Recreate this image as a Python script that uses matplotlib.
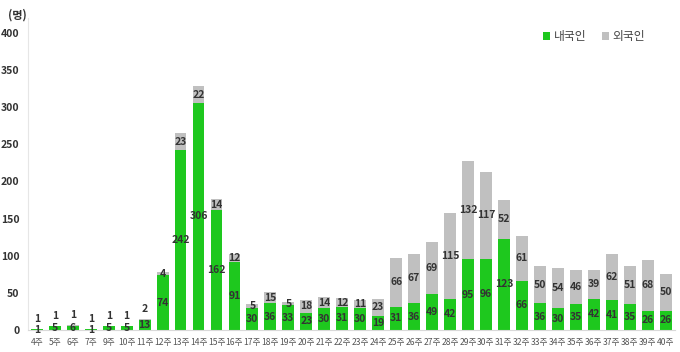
import matplotlib
matplotlib.use("Agg")
import matplotlib.pyplot as plt
import numpy as np

plt.rcParams['font.family'] = ['Noto Sans CJK KR', 'DejaVu Sans']

weeks = ["4주", "5주", "6주", "7주", "9주", "10주", "11주", "12주", "13주", "14주",
         "15주", "16주", "17주", "18주", "19주", "20주", "21주", "22주", "23주", "24주",
         "25주", "26주", "27주", "28주", "29주", "30주", "31주", "32주", "33주", "34주",
         "35주", "36주", "37주", "38주", "39주", "40주"]
domestic = [1, 5, 6, 1, 5, 5, 13, 74, 242, 306, 162, 91, 30, 36, 33, 23, 30, 31, 30, 19,
            31, 36, 49, 42, 95, 96, 123, 66, 36, 30, 35, 42, 41, 35, 26, 26]
foreign = [1, 1, 1, 1, 1, 1, 2, 4, 23, 22, 14, 12, 5, 15, 5, 18, 14, 12, 11, 23,
           66, 67, 69, 115, 132, 117, 52, 61, 50, 54, 46, 39, 62, 51, 68, 50]
yticks = [0, 50, 100, 150, 200, 250, 300, 350, 400]

green = "#1ec81e"
gray = "#c0c0c0"
txt = "#333333"

fig = plt.figure(figsize=(6.8, 3.52), dpi=100)
ax = fig.add_axes([0.041, 0.0625, 0.951, 0.886])

x = np.arange(len(weeks))
w = 0.66
ax.bar(x, domestic, width=w, color=green, label="내국인", zorder=2)
ax.bar(x, foreign, width=w, bottom=domestic, color=gray, label="외국인", zorder=2)

for i, (d, f) in enumerate(zip(domestic, foreign)):
    ax.text(x[i], d / 2, str(d), ha="center", va="center", fontsize=7.5,
            fontweight="bold", color=txt, zorder=3)
    if f <= 2:
        ax.annotate(str(f), (x[i], d + f), xytext=(0, 7), textcoords="offset points",
                    ha="center", va="center", fontsize=7.5, fontweight="bold", color=txt, zorder=3)
    else:
        ax.text(x[i], d + f / 2, str(f), ha="center", va="center", fontsize=7.5,
                fontweight="bold", color=txt, zorder=3)

ax.set_xlim(-0.5, len(weeks) - 0.5)
ax.set_ylim(0, 420)
ax.set_yticks(yticks)
ax.set_xticks(x)
ax.set_xticklabels(weeks, fontsize=6.2, color="#555555")
ax.tick_params(axis="y", labelsize=7.5, colors="#333333", length=0, pad=6)
ax.tick_params(axis="x", length=0, pad=6)
for lab in ax.get_yticklabels():
    lab.set_fontweight("bold")

for s in ["top", "right"]:
    ax.spines[s].set_visible(False)
ax.spines["left"].set_color("#e6e6e6")
ax.spines["bottom"].set_color("#d9d9d9")

fig.text(0.012, 0.975, "(명)", fontsize=8, fontweight="bold", color="#333333", va="top")

leg = ax.legend(loc="upper left", bbox_to_anchor=(0.78, 0.995), ncol=2, frameon=False,
                fontsize=8.5, handlelength=0.6, handleheight=0.6, columnspacing=1.3,
                handletextpad=0.3)
for t in leg.get_texts():
    t.set_color("#444444")

fig.savefig("out.png", dpi=100)
